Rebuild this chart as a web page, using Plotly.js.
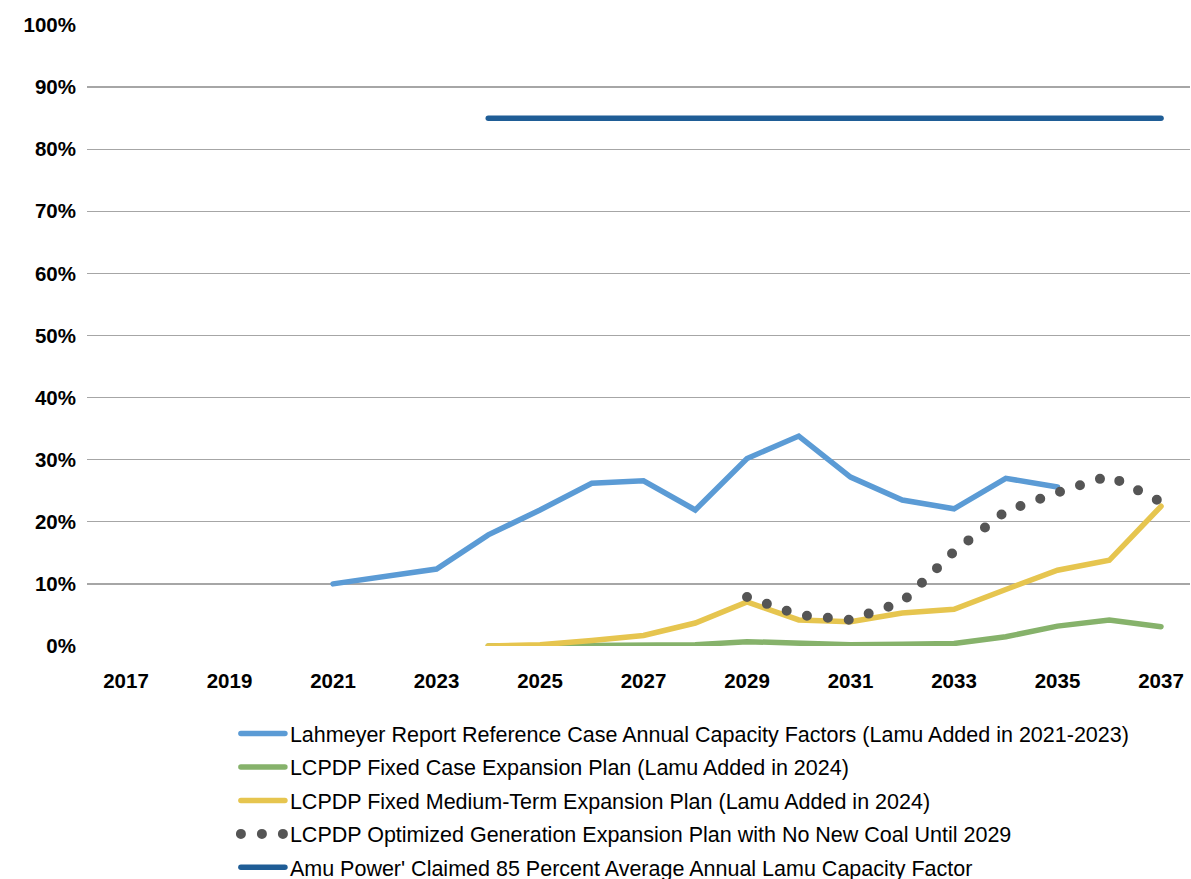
<!DOCTYPE html>
<html>
<head>
<meta charset="utf-8">
<script src="https://cdn.plot.ly/plotly-3.0.1.min.js"></script>
<style>
html,body{margin:0;padding:0;background:#fff;}
#chart{width:1191px;height:879px;}
</style>
</head>
<body>
<div id="chart"></div>
<script>
const lahmeyerYears = [2021,2022,2023,2024,2025,2026,2027,2028,2029,2030,2031,2032,2033,2034,2035];
const lahmeyerValues = [10.0,11.1,12.4,17.9,21.9,26.2,26.6,21.9,30.2,33.8,27.2,23.5,22.1,27.0,25.6];

const fixedYears = [2024,2025,2026,2027,2028,2029,2030,2031,2032,2033,2034,2035,2036,2037];
const fixedValues = [0.0,0.0,0.1,0.1,0.2,0.7,0.4,0.2,0.3,0.4,1.5,3.2,4.2,3.1];

const mediumYears = [2024,2025,2026,2027,2028,2029,2030,2031,2032,2033,2034,2035,2036,2037];
const mediumValues = [0.0,0.2,0.9,1.7,3.7,7.1,4.2,3.9,5.3,5.9,9.1,12.2,13.8,22.5];

const optimizedYears = [2029,2030,2031,2032,2033,2034,2035,2036,2037];
const optimizedValues = [7.9,5.0,4.2,7.1,15.2,21.7,24.7,27.4,23.2];

const amuYears = [2024,2037];
const amuValues = [85,85];

const seriesNames = [
  "Lahmeyer Report Reference Case Annual Capacity Factors (Lamu Added in 2021-2023)",
  "LCPDP Fixed Case Expansion Plan (Lamu Added in 2024)",
  "LCPDP Fixed Medium-Term Expansion Plan (Lamu Added in 2024)",
  "LCPDP Optimized Generation Expansion Plan with No New Coal Until 2029",
  "Amu Power' Claimed 85 Percent Average Annual Lamu Capacity Factor"
];

const xTickVals = [2017,2019,2021,2023,2025,2027,2029,2031,2033,2035,2037];
const xTickText = ["2017","2019","2021","2023","2025","2027","2029","2031","2033","2035","2037"];
const yTickVals = [0,10,20,30,40,50,60,70,80,90,100];
const yTickText = ["0%","10%","20%","30%","40%","50%","60%","70%","80%","90%","100%"];

const traces = [
  {x: lahmeyerYears, y: lahmeyerValues, name: seriesNames[0], legendgroup: "a", mode: "lines",
   line: {color: "#5B9BD5", width: 5.5}},
  {x: fixedYears, y: fixedValues, name: seriesNames[1], legendgroup: "b", mode: "lines",
   line: {color: "#86B26B", width: 5.5}},
  {x: mediumYears, y: mediumValues, name: seriesNames[2], legendgroup: "c", mode: "lines",
   line: {color: "#E6C54F", width: 5.5}},
  {x: optimizedYears, y: optimizedValues, name: seriesNames[3], legendgroup: "d", mode: "lines",
   line: {color: "#555555", width: 10, dash: "0px,21px"}},
  {x: amuYears, y: amuValues, name: seriesNames[4], legendgroup: "e", mode: "lines",
   line: {color: "#1F5D96", width: 5.5}}
];

const layout = {
  width: 1191, height: 879,
  margin: {l: 87, r: 1, t: 25, b: 233, autoexpand: false},
  paper_bgcolor: "#fff", plot_bgcolor: "#fff",
  showlegend: true,
  legend: {
    x: 0.135, xanchor: "left", y: -0.108, yanchor: "top",
    font: {family: "Liberation Sans, Arial, sans-serif", size: 21.5, color: "#000"},
    itemwidth: 44, tracegroupgap: 2.5, bgcolor: "rgba(0,0,0,0)"
  },
  xaxis: {
    range: [2016.246, 2037.56],
    tickmode: "array", tickvals: xTickVals, ticktext: xTickText,
    showgrid: false, zeroline: false, showline: false, ticks: "",
    ticklabelstandoff: 20,
    tickfont: {family: "Liberation Sans, Arial, sans-serif", size: 20.5, color: "#000", weight: "bold"}
  },
  yaxis: {
    range: [0, 100],
    tickmode: "array", tickvals: yTickVals, ticktext: yTickText,
    showgrid: true, gridcolor: "#A6A6A6", gridwidth: 1.3,
    zeroline: false, showline: false, ticks: "",
    ticklabelstandoff: 10,
    tickfont: {family: "Liberation Sans, Arial, sans-serif", size: 20.5, color: "#000", weight: "bold"}
  }
};

Plotly.newPlot("chart", traces, layout, {displayModeBar: false, staticPlot: true}).then(function(){
  document.querySelectorAll("#chart path.js-line").forEach(function(p){
    p.style.strokeLinecap = "round";
  });
  document.querySelectorAll("#chart .legendlines path").forEach(function(p){
    p.style.strokeLinecap = "round";
  });
});
</script>
</body>
</html>
